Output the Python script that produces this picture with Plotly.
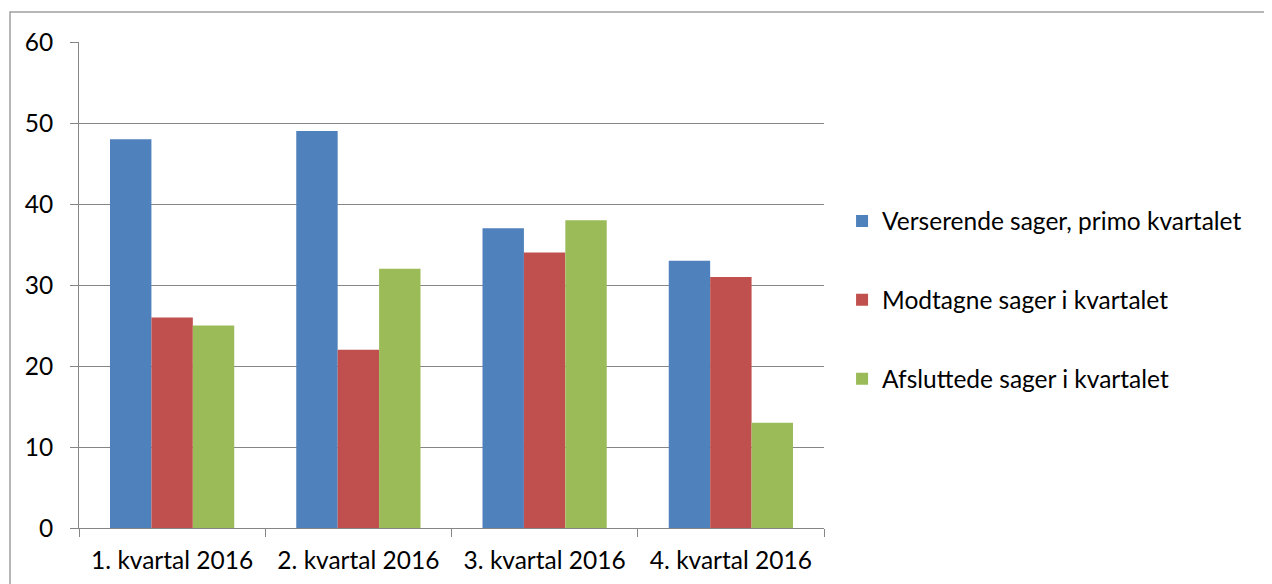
import plotly.graph_objects as go

categories = ["1. kvartal 2016", "2. kvartal 2016", "3. kvartal 2016", "4. kvartal 2016"]
series_names = ["Verserende sager, primo kvartalet", "Modtagne sager i kvartalet", "Afsluttede sager i kvartalet"]
verserende = [48, 49, 37, 33]
modtagne = [26, 22, 34, 31]
afsluttede = [25, 32, 38, 13]
colors = ["#4F81BD", "#C0504D", "#9BBB59"]
y_ticks = [0, 10, 20, 30, 40, 50, 60]

# page body has an 8px margin; the figure is laid out in its own coordinates
W, H = 1264, 576
L, R, T, B = 71, 448, 34, 56
pw = W - L - R
ph = H - T - B

fig = go.Figure()
for i, (name, vals) in enumerate(zip(series_names, [verserende, modtagne, afsluttede])):
    fig.add_trace(go.Bar(x=categories, y=vals, name=name, marker_color=colors[i],
                         marker_line_width=0, legendgroup=str(i)))

FONT = "Lato"
FS = 24.5
fig.update_layout(
    width=W, height=H,
    margin=dict(l=L, r=R, t=T, b=B, autoexpand=False),
    paper_bgcolor="white", plot_bgcolor="white",
    barmode="group", bargap=0.333, bargroupgap=0,
    font=dict(family=FONT, size=FS, color="#000000"),
    legend=dict(x=(853 - 71 - 10) / pw - 0.012, xanchor="left", y=(520 - 292) / ph, yanchor="middle",
                tracegroupgap=44, font=dict(size=FS, family=FONT), bgcolor="rgba(0,0,0,0)",
                itemwidth=30),
    showlegend=True,
)
fig.update_xaxes(showgrid=False, showline=True, linecolor="#868686", linewidth=1,
                 ticks="outside", tickson="boundaries", ticklen=8, tickcolor="#868686",
                 tickfont=dict(size=FS, family=FONT), mirror=False, ticklabelstandoff=11,
                 automargin=False)
fig.update_yaxes(range=[0, 60], tickvals=y_ticks, showgrid=True, gridcolor="#868686", gridwidth=1,
                 showline=True, linecolor="#868686", linewidth=1, ticks="outside", ticklen=8,
                 tickcolor="#868686", tickfont=dict(size=FS, family=FONT), zeroline=False,
                 ticklabelstandoff=12, automargin=False)

x0 = (2 - L) / pw
x1 = (W - L) / pw
ytop = (H - B - 4) / ph
ybot = (H - B - H) / ph
fig.add_shape(type="path", xref="paper", yref="paper",
              path=f"M {x0} {ybot} L {x0} {ytop} L {x1} {ytop}",
              line=dict(color="#A0A0A0", width=1.5), layer="above")

fig.write_html("out.html")
